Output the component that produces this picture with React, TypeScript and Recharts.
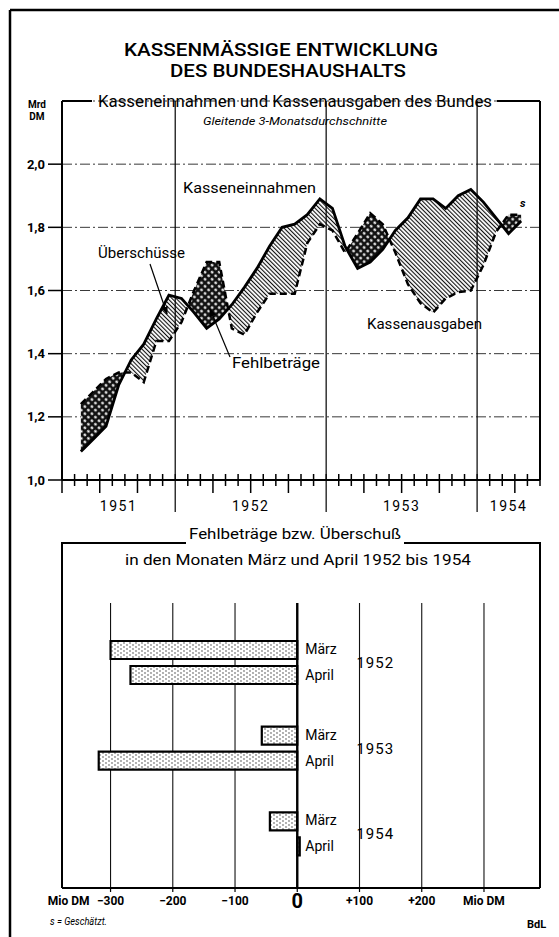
import React from 'react';
import {
  ComposedChart, Area, Line, XAxis, YAxis, CartesianGrid, ReferenceLine,
  BarChart, Bar, LabelList,
} from 'recharts';

// Gleitende 3-Monatsdurchschnitte, Mai 1951 bis April 1954 (Mrd DM)
const months = [
  'Mai 51', 'Jun 51', 'Jul 51', 'Aug 51', 'Sep 51', 'Okt 51', 'Nov 51', 'Dez 51',
  'Jan 52', 'Feb 52', 'Mär 52', 'Apr 52', 'Mai 52', 'Jun 52', 'Jul 52', 'Aug 52', 'Sep 52', 'Okt 52', 'Nov 52', 'Dez 52',
  'Jan 53', 'Feb 53', 'Mär 53', 'Apr 53', 'Mai 53', 'Jun 53', 'Jul 53', 'Aug 53', 'Sep 53', 'Okt 53', 'Nov 53', 'Dez 53',
  'Jan 54', 'Feb 54', 'Mär 54', 'Apr 54',
];
const einnahmen = [
  1.09, 1.13, 1.17, 1.30, 1.38, 1.43, 1.51, 1.585,
  1.575, 1.53, 1.48, 1.51, 1.555, 1.61, 1.67, 1.74, 1.80, 1.81, 1.84, 1.89,
  1.86, 1.74, 1.67, 1.69, 1.73, 1.79, 1.83, 1.89, 1.89, 1.86, 1.90, 1.92,
  1.88, 1.83, 1.78, 1.82,
];
const ausgaben = [
  1.24, 1.28, 1.32, 1.34, 1.34, 1.31, 1.44, 1.44,
  1.50, 1.60, 1.69, 1.69, 1.48, 1.46, 1.53, 1.59, 1.59, 1.59, 1.75, 1.81,
  1.79, 1.72, 1.78, 1.845, 1.81, 1.72, 1.62, 1.56, 1.53, 1.575, 1.595, 1.60,
  1.68, 1.785, 1.84, 1.84,
];
const yTicks = [1.0, 1.2, 1.4, 1.6, 1.8, 2.0];
const years = [1951, 1952, 1953, 1954];

// Fehlbeträge bzw. Überschuss (Mio DM)
const barYears = ['1952', '1953', '1954'];
const maerz = [-300, -57, -44];
const april = [-268, -319, 4];
const barTicks = [-300, -200, -100, 0, 100, 200, 300];

const FONT = "Roboto, 'DejaVu Sans', sans-serif";

// x axis: month index counted from the start of April 1951
const X_MAX = 38;
const FIRST_MONTH = 1; // May 1951
const xOf = (i: number) => FIRST_MONTH + i + 0.5;

// rows for lines and the two fills (crossing points close the fills exactly)
const rows: any[] = [];
months.forEach((m, i) => {
  const e = einnahmen[i];
  const a = ausgaben[i];
  rows.push({
    x: xOf(i), month: m, e, a,
    surplus: e >= a ? [a, e] : [e, e],
    deficit: a > e ? [e, a] : [a, a],
  });
  if (i < months.length - 1) {
    const d0 = e - a;
    const d1 = einnahmen[i + 1] - ausgaben[i + 1];
    if (d0 * d1 < 0) {
      const t = d0 / (d0 - d1);
      const v = e + t * (einnahmen[i + 1] - e);
      rows.push({ x: xOf(i) + t, e: null, a: null, surplus: [v, v], deficit: [v, v] });
    }
  }
});

const yearStart = (y: number) => (y - 1951) * 12 - 3;
const yearLabelPos = years.map((y) => (Math.max(0, yearStart(y)) + Math.min(X_MAX, yearStart(y) + 12)) / 2);
const yearBounds = years.map(yearStart).filter((s) => s > 0 && s < X_MAX);
const monthTicks = Array.from({ length: X_MAX + 1 }, (_, i) => i);
const xTicks = [...monthTicks, ...yearLabelPos.filter((p) => !Number.isInteger(p))].sort((a, b) => a - b);

const barRows = barYears.map((year, i) => ({ year, maerz: maerz[i], april: april[i] }));

const MonthTick = (props: any) => {
  const { x, y, payload } = props;
  const v = Number(payload.value);
  const idx = yearLabelPos.indexOf(v);
  const boundary = Number.isInteger(v);
  const isYear = yearBounds.includes(v);
  const isQuarter = v % 3 === 0;
  return (
    <g>
      {boundary && (
        <line x1={x} x2={x} y1={y - 6} y2={isYear ? y + 32 : isQuarter ? y + 13 : y + 6}
          stroke="#000" strokeWidth={isYear ? 1.2 : 1.5} />
      )}
      {idx >= 0 && (
        <text x={x} y={y + 31} textAnchor="middle" fontSize={14} fontFamily={FONT}
          letterSpacing={1.5} fill="#000">{years[idx]}</text>
      )}
    </g>
  );
};

const BarTick = (props: any) => {
  const { x, y, payload } = props;
  const v = Number(payload.value);
  const label = v === 300 ? 'Mio DM' : v === 0 ? '0' : v > 0 ? `+${v}` : `−${Math.abs(v)}`;
  return (
    <g fontFamily={FONT} fontWeight="bold" fill="#000">
      <text x={x} y={y} dy={v === 0 ? 14 : 11} textAnchor="middle" fontSize={v === 0 ? 20 : 12}>{label}</text>
      {v === -300 && <text x={x - 21} y={y} dy={11} textAnchor="end" fontSize={12}>Mio DM</text>}
    </g>
  );
};

const zeroOf = (p: any) => {
  const x = Number(p.x);
  const w = Number(p.width);
  const v = Number(p.value);
  if (v < 0) return w < 0 ? x : x + w;
  return w < 0 ? x + w : x;
};

const MaerzLabel = (p: any) => (
  <text x={zeroOf(p) + 8} y={Number(p.y) + Number(p.height) / 2 + 4} fontSize={14} fontFamily={FONT} fill="#000">März</text>
);

const AprilLabel = (p: any) => {
  const z = zeroOf(p);
  const cy = Number(p.y) + Number(p.height) / 2;
  return (
    <g fontFamily={FONT} fill="#000">
      <text x={z + 8} y={cy + 5} fontSize={14}>April</text>
      <text x={z + 78} y={Number(p.y) - 3.5 + 5.5} textAnchor="middle" fontSize={15} letterSpacing={1}>{barYears[p.index]}</text>
    </g>
  );
};

const Patterns = () => (
  <svg width={0} height={0} style={{ position: 'absolute' }}>
    <defs>
      <pattern id="hatch" patternUnits="userSpaceOnUse" width={3} height={3} patternTransform="rotate(-45)">
        <rect width={3} height={3} fill="#fff" />
        <rect width={1.1} height={3} fill="#111" />
      </pattern>
      <pattern id="dots" patternUnits="userSpaceOnUse" width={5} height={5} patternTransform="rotate(45)">
        <rect width={5} height={5} fill="#111" />
        <circle cx={2.5} cy={2.5} r={1.35} fill="#fff" />
      </pattern>
      <pattern id="stipple" patternUnits="userSpaceOnUse" width={6} height={4}>
        <rect width={6} height={4} fill="#fff" />
        <circle cx={1} cy={1} r={0.65} fill="#222" />
        <circle cx={4} cy={3} r={0.65} fill="#222" />
      </pattern>
      <marker id="arrow" viewBox="0 0 10 10" refX={9} refY={5} markerWidth={7} markerHeight={7} orient="auto">
        <path d="M0,1 L10,5 L0,9 z" fill="#000" />
      </marker>
    </defs>
  </svg>
);

const Overlay = () => (
  <svg width={559} height={937} style={{ position: 'absolute', left: 0, top: 0, pointerEvents: 'none' }}>
    {/* outer border */}
    <line x1={10} y1={10} x2={559} y2={10} stroke="#000" strokeWidth={2.5} />
    <line x1={10} y1={10} x2={10} y2={937} stroke="#000" strokeWidth={2.5} />

    <g fontFamily={FONT} fill="#000">
      <text x={281} y={56} textAnchor="middle" fontSize={19} fontWeight={500} textLength={314} lengthAdjust="spacingAndGlyphs">KASSENMÄSSIGE ENTWICKLUNG</text>
      <text x={288} y={77} textAnchor="middle" fontSize={19} fontWeight={500} textLength={236} lengthAdjust="spacingAndGlyphs">DES BUNDESHAUSHALTS</text>

      {/* top chart frame title */}
      <line x1={62} y1={101} x2={92} y2={101} stroke="#000" strokeWidth={2} />
      <line x1={497} y1={101} x2={540} y2={101} stroke="#000" strokeWidth={2} />
      <text x={295} y={107} textAnchor="middle" fontSize={16} textLength={394} lengthAdjust="spacingAndGlyphs">Kasseneinnahmen und Kassenausgaben des Bundes</text>
      <text x={295} y={125} textAnchor="middle" fontSize={11} fontStyle="italic" textLength={184} lengthAdjust="spacingAndGlyphs">Gleitende 3-Monatsdurchschnitte</text>
      <text x={37} y={108} textAnchor="middle" fontSize={10} fontWeight="bold">Mrd</text>
      <text x={37} y={120} textAnchor="middle" fontSize={10} fontWeight="bold">DM</text>

      {/* annotations */}
      <text x={183} y={193} fontSize={14} textLength={133} lengthAdjust="spacingAndGlyphs">Kasseneinnahmen</text>
      <text x={98} y={258} fontSize={14} textLength={87} lengthAdjust="spacingAndGlyphs">Überschüsse</text>
      <text x={232} y={368} fontSize={14} textLength={88} lengthAdjust="spacingAndGlyphs">Fehlbeträge</text>
      <text x={367} y={329} fontSize={14} textLength={115} lengthAdjust="spacingAndGlyphs">Kassenausgaben</text>
      <text x={520} y={207} fontSize={11} fontStyle="italic" fontWeight="bold">s</text>
      <line x1={150} y1={264} x2={167} y2={314} stroke="#000" strokeWidth={1.2} markerEnd="url(#arrow)" />
      <line x1={230} y1={357} x2={210} y2={309} stroke="#000" strokeWidth={1.2} markerEnd="url(#arrow)" />

      {/* bottom chart frame */}
      <line x1={62} y1={543} x2={62} y2={888} stroke="#000" strokeWidth={2} />
      <line x1={540} y1={543} x2={540} y2={888} stroke="#000" strokeWidth={2} />
      <line x1={61} y1={543} x2={186} y2={543} stroke="#000" strokeWidth={2} />
      <line x1={404} y1={543} x2={541} y2={543} stroke="#000" strokeWidth={2} />
      <text x={295} y={539} textAnchor="middle" fontSize={15} textLength={212} lengthAdjust="spacingAndGlyphs">Fehlbeträge bzw. Überschuß</text>
      <text x={298} y={565} textAnchor="middle" fontSize={15} textLength={346} lengthAdjust="spacingAndGlyphs">in den Monaten März und April 1952 bis 1954</text>

      <text x={50} y={925} fontSize={11} fontStyle="italic" textLength={57} lengthAdjust="spacingAndGlyphs">s = Geschätzt.</text>
      <text x={527} y={928} fontSize={11} fontWeight="bold">BdL</text>
    </g>
  </svg>
);

const App: React.FC = () => {
  return (
    <div style={{ position: 'absolute', left: 0, top: 0, width: 559, height: 937, background: '#fff', overflow: 'hidden' }}>
      <Patterns />
      <div style={{ position: 'absolute', left: 0, top: 0 }}>
        <ComposedChart width={559} height={530} data={rows} margin={{ top: 101, right: 19, bottom: 0, left: 12 }}>
          <CartesianGrid vertical={false} stroke="#222" strokeWidth={0.9} strokeDasharray="10 3 2 3" />
          <XAxis
            dataKey="x" type="number" domain={[0, X_MAX]} ticks={xTicks} interval={0}
            allowDataOverflow height={50} tickSize={0} tickMargin={0} tickLine={false}
            axisLine={{ stroke: '#000', strokeWidth: 2 }} tick={<MonthTick />}
          />
          <YAxis
            type="number" domain={[1.0, 2.2]} ticks={yTicks} allowDataOverflow width={50}
            tickSize={14} tickMargin={3}
            tickFormatter={(v: number) => v.toFixed(1).replace('.', ',')}
            tick={{ fontSize: 13, fontWeight: 'bold', fill: '#000', fontFamily: FONT }}
            tickLine={{ stroke: '#000', strokeWidth: 1.5 }}
            axisLine={{ stroke: '#000', strokeWidth: 2 }}
          />
          {yearBounds.map((b) => (
            <ReferenceLine key={b} x={b} stroke="#000" strokeWidth={1.2} />
          ))}
          <ReferenceLine x={X_MAX} stroke="#000" strokeWidth={2} />
          <Area type="linear" dataKey="surplus" stroke="none" fill="url(#hatch)" fillOpacity={1} isAnimationActive={false} />
          <Area type="linear" dataKey="deficit" stroke="none" fill="url(#dots)" fillOpacity={1} isAnimationActive={false} />
          <Line type="linear" dataKey="a" stroke="#000" strokeWidth={2.5} strokeDasharray="7 4" dot={false} connectNulls isAnimationActive={false} />
          <Line type="linear" dataKey="e" stroke="#000" strokeWidth={2.8} dot={false} connectNulls isAnimationActive={false} />
        </ComposedChart>
      </div>
      <div style={{ position: 'absolute', left: 0, top: 540 }}>
        <BarChart
          layout="vertical" width={559} height={390} data={barRows}
          margin={{ top: 63, right: 19, bottom: 0, left: 62 }} barSize={18} barGap={7}
        >
          <CartesianGrid horizontal={false} stroke="#111" strokeWidth={1.1} />
          <XAxis
            type="number" domain={[-378, 390]} ticks={barTicks} interval={0} allowDataOverflow
            height={42} tickSize={4} tickMargin={2}
            axisLine={{ stroke: '#000', strokeWidth: 2 }} tickLine={{ stroke: '#000', strokeWidth: 1.2 }}
            tick={<BarTick />}
          />
          <YAxis type="category" dataKey="year" hide padding={{ top: 17, bottom: 11 }} />
          <ReferenceLine x={0} stroke="#000" strokeWidth={2.4} />
          <Bar dataKey="maerz" fill="url(#stipple)" stroke="#000" strokeWidth={2.2} isAnimationActive={false}>
            <LabelList dataKey="maerz" content={<MaerzLabel />} />
          </Bar>
          <Bar dataKey="april" fill="url(#stipple)" stroke="#000" strokeWidth={2.2} isAnimationActive={false}>
            <LabelList dataKey="april" content={<AprilLabel />} />
          </Bar>
        </BarChart>
      </div>
      <Overlay />
    </div>
  );
};

export default App;
